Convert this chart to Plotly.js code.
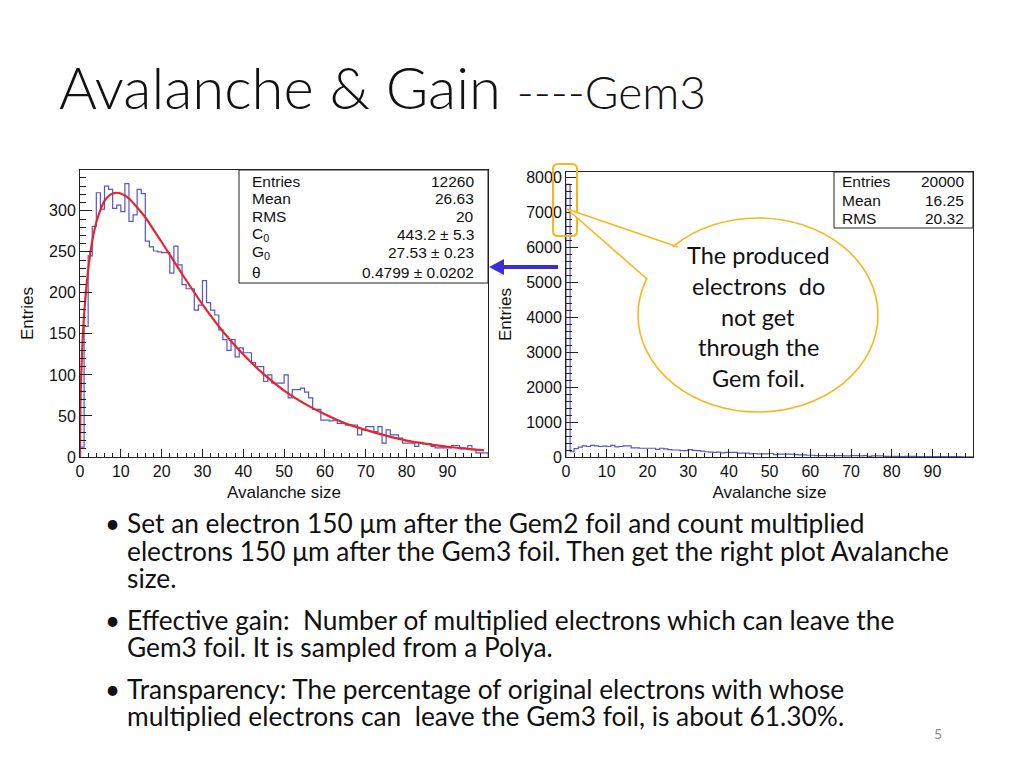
<!DOCTYPE html>
<html>
<head>
<meta charset="utf-8">
<script src="https://cdn.plot.ly/plotly-3.0.1.min.js"></script>
<style>
  html, body { margin: 0; padding: 0; background: #fff; }
  #slide { width: 1024px; height: 768px; }
</style>
</head>
<body>
<div id="slide"></div>
<script>
// left histogram: avalanche size of electrons that leave the Gem3 foil (bins of width 1, 0..100)
var leftCounts = [
    12, 159, 245, 281, 322, 302, 330, 326, 303, 307,
    299, 333, 287, 295, 326, 321, 263, 256, 251, 250,
    249, 249, 224, 257, 234, 210, 205, 205, 179, 185,
    215, 188, 179, 173, 155, 143, 130, 143, 122, 133,
    127, 127, 115, 110, 110, 92, 100, 90, 90, 90,
    100, 72, 82, 82, 84, 79, 72, 58, 58, 45,
    45, 44, 45, 41, 41, 39, 39, 39, 27, 33,
    37, 37, 31, 37, 17, 33, 27, 27, 23, 17,
    17, 17, 13, 18, 16, 16, 13, 11, 11, 11,
    11, 14, 14, 10, 10, 14, 9, 5, 5, 5
];

// Polya fit drawn in red
var fitX = [0, 0.1, 0.25, 0.5, 1, 2, 3, 4, 5, 6, 7, 8, 9, 10, 12, 14, 16, 18, 20, 25,
            30, 35, 40, 45, 50, 55, 60, 65, 70, 75, 80, 85, 90, 95, 99];
var fitY = [0, 60, 92, 127, 173, 228, 263, 286, 301, 312, 318, 321, 322, 321, 315, 304, 292, 277, 262, 223,
            186, 153, 125, 101, 81, 65, 52, 41, 33, 26, 20, 16, 12.5, 10, 8];

// right histogram: all 20000 avalanches, bin 0 holds the electrons that do not get through
var rightCounts = [
    7800, 150, 240, 280, 320, 300, 330, 320, 300, 310,
    300, 330, 290, 300, 320, 320, 260, 260, 250, 250,
    250, 250, 220, 250, 230, 210, 200, 200, 180, 180,
    210, 190, 180, 170, 150, 140, 130, 140, 120, 130,
    130, 130, 110, 110, 110, 90, 100, 90, 90, 90,
    100, 70, 80, 80, 80, 80, 70, 60, 60, 50,
    50, 40, 40, 40, 40, 40, 40, 40, 30, 30,
    40, 40, 30, 40, 20, 30, 30, 30, 20, 20,
    20, 20, 10, 20, 20, 20, 10, 10, 10, 10,
    10, 10, 10, 10, 10, 10, 10, 5, 5, 5
];
var binLow = 0;
var binWidth = 1;

var leftStatNames = ['Entries', 'Mean', 'RMS', 'C<sub>0</sub>', 'G<sub>0</sub>', 'θ'];
var leftStatValues = ['12260', '26.63', '20', '443.2 ± 5.3', '27.53 ± 0.23', '0.4799 ± 0.0202'];
var rightStatNames = ['Entries', 'Mean', 'RMS'];
var rightStatValues = ['20000', '16.25', '20.32'];

var titleMain = 'Avalanche & Gain';
var titleSub = '----Gem3';
var xTitle = 'Avalanche size';
var yTitle = 'Entries';
var calloutLines = ['The produced', 'electrons  do', 'not get', 'through the', 'Gem foil.'];
var bulletLines = [
    ['Set an electron 150 μm after the Gem2 foil and count multiplied',
     'electrons 150 μm after the Gem3 foil. Then get the right plot Avalanche',
     'size.'],
    ['Effective gain:  Number of multiplied electrons which can leave the',
     'Gem3 foil. It is sampled from a Polya.'],
    ['Transparency: The percentage of original electrons with whose',
     'multiplied electrons can  leave the Gem3 foil, is about 61.30%.']
];
var pageNumber = '5';

(function () {
    var W = 1024, H = 768;
    function px(x) { return x / W; }
    function py(y) { return 1 - y / H; }

    var rootFont = 'Liberation Sans, Arial, Helvetica, sans-serif';
    var slideFont = 'Lato, Carlito, Calibri, sans-serif';
    var histBlue = '#5656c8';
    var fitRed = '#e8242c';
    var yellow = '#f5b81c';
    var arrowBlue = '#3a2fd4';

    // step outline like ROOT's HIST option
    function outline(counts) {
        var xs = [binLow], ys = [0];
        counts.forEach(function (c, i) {
            xs.push(binLow + i * binWidth);
            ys.push(c);
        });
        xs.push(binLow + counts.length * binWidth);
        ys.push(counts[counts.length - 1]);
        xs.push(binLow + counts.length * binWidth);
        ys.push(0);
        return { x: xs, y: ys };
    }

    var leftLine = outline(leftCounts);
    var rightLine = outline(rightCounts);

    var data = [
        {
            type: 'scatter', mode: 'lines', x: leftLine.x, y: leftLine.y,
            line: { shape: 'hv', color: histBlue, width: 1.2 },
            xaxis: 'x', yaxis: 'y', hoverinfo: 'skip'
        },
        {
            type: 'scatter', mode: 'lines', x: fitX, y: fitY,
            line: { shape: 'spline', smoothing: 0.8, color: fitRed, width: 2.2 },
            xaxis: 'x', yaxis: 'y', hoverinfo: 'skip'
        },
        {
            type: 'scatter', mode: 'lines', x: rightLine.x, y: rightLine.y,
            line: { shape: 'hv', color: histBlue, width: 1.2 },
            xaxis: 'x2', yaxis: 'y2', hoverinfo: 'skip'
        }
    ];

    function axis(extra) {
        var base = {
            showline: true, mirror: true, linecolor: '#222', linewidth: 1,
            ticks: 'inside', tickcolor: '#222', tickwidth: 1,
            showgrid: false, zeroline: false, fixedrange: true,
            tickfont: { family: rootFont, size: 16, color: '#111' }
        };
        for (var k in extra) base[k] = extra[k];
        return base;
    }

    var layout = {
        width: W, height: H,
        margin: { l: 0, r: 0, t: 0, b: 0 },
        paper_bgcolor: '#fff', plot_bgcolor: '#fff',
        showlegend: false,
        title: {
            text: titleMain + ' <span style="font-size:46px">' + titleSub + '</span>',
            font: { family: slideFont, size: 58, color: '#111', weight: 300 },
            xref: 'paper', yref: 'paper', x: px(59), xanchor: 'left', y: py(89), yanchor: 'middle'
        },
        xaxis: axis({
            domain: [px(80), px(488)], range: [0, 99.95], anchor: 'y', dtick: 10, ticklen: 8.5,
            minor: { dtick: 2, ticks: 'inside', ticklen: 4.3, tickcolor: '#222' },
            title: { text: xTitle, standoff: 6, font: { family: rootFont, size: 17, color: '#111' } }
        }),
        yaxis: axis({
            domain: [py(457), py(170)], range: [0, 349.7], anchor: 'x', dtick: 50, ticklen: 12,
            minor: { dtick: 10, ticks: 'inside', ticklen: 6, tickcolor: '#222' },
            title: { text: yTitle, standoff: 11, font: { family: rootFont, size: 17, color: '#111' } }
        }),
        xaxis2: axis({
            domain: [px(566), px(973)], range: [0, 99.95], anchor: 'y2', dtick: 10, ticklen: 8.5,
            minor: { dtick: 2, ticks: 'inside', ticklen: 4.3, tickcolor: '#222' },
            title: { text: xTitle, standoff: 6, font: { family: rootFont, size: 17, color: '#111' } }
        }),
        yaxis2: axis({
            domain: [py(457), py(172)], range: [0, 8150], anchor: 'x2', dtick: 1000, ticklen: 12,
            minor: { dtick: 200, ticks: 'inside', ticklen: 6, tickcolor: '#222' },
            title: { text: yTitle, standoff: 10, font: { family: rootFont, size: 17, color: '#111' } }
        }),
        shapes: [],
        annotations: []
    };

    // stats boxes
    layout.shapes.push({ type: 'rect', xref: 'paper', yref: 'paper', x0: px(239), x1: px(488), y0: py(283), y1: py(170),
        line: { color: '#222', width: 1 }, fillcolor: '#fff', layer: 'above' });
    layout.shapes.push({ type: 'rect', xref: 'paper', yref: 'paper', x0: px(834), x1: px(973), y0: py(228), y1: py(172),
        line: { color: '#222', width: 1 }, fillcolor: '#fff', layer: 'above' });

    var leftRows = [182, 199, 216, 235, 253, 272];
    leftStatNames.forEach(function (name, i) {
        layout.annotations.push({ xref: 'paper', yref: 'paper', x: px(250), y: py(leftRows[i]), xanchor: 'left', yanchor: 'middle',
            text: name, showarrow: false, font: { family: rootFont, size: 15.5, color: '#111' } });
        layout.annotations.push({ xref: 'paper', yref: 'paper', x: px(476), y: py(leftRows[i]), xanchor: 'right', yanchor: 'middle',
            text: leftStatValues[i], showarrow: false, font: { family: rootFont, size: 15.5, color: '#111' } });
    });
    var rightRows = [182, 200, 218];
    rightStatNames.forEach(function (name, i) {
        layout.annotations.push({ xref: 'paper', yref: 'paper', x: px(840), y: py(rightRows[i]), xanchor: 'left', yanchor: 'middle',
            text: name, showarrow: false, font: { family: rootFont, size: 15.5, color: '#111' } });
        layout.annotations.push({ xref: 'paper', yref: 'paper', x: px(966), y: py(rightRows[i]), xanchor: 'right', yanchor: 'middle',
            text: rightStatValues[i], showarrow: false, font: { family: rootFont, size: 15.5, color: '#111' } });
    });

    // yellow rounded frame round the bin-0 spike
    function roundRect(x0, y0, x1, y1, r) {
        var p = function (x, y) { return px(x) + ',' + py(y); };
        return 'M' + p(x0 + r, y0) + ' L' + p(x1 - r, y0) + ' Q' + p(x1, y0) + ' ' + p(x1, y0 + r) +
            ' L' + p(x1, y1 - r) + ' Q' + p(x1, y1) + ' ' + p(x1 - r, y1) +
            ' L' + p(x0 + r, y1) + ' Q' + p(x0, y1) + ' ' + p(x0, y1 - r) +
            ' L' + p(x0, y0 + r) + ' Q' + p(x0, y0) + ' ' + p(x0 + r, y0) + ' Z';
    }
    layout.shapes.push({ type: 'path', xref: 'paper', yref: 'paper', path: roundRect(553, 164, 577, 236, 5),
        line: { color: yellow, width: 2 }, layer: 'above' });

    // callout bubble with wedge
    var tip = [567, 209], wa = [678, 247], wb = [647, 279];
    layout.shapes.push({ type: 'circle', xref: 'paper', yref: 'paper', x0: px(638), x1: px(878), y0: py(412), y1: py(218),
        line: { color: yellow, width: 1.6 }, fillcolor: '#fff', layer: 'above' });
    layout.shapes.push({ type: 'path', xref: 'paper', yref: 'paper',
        path: 'M' + px(tip[0]) + ',' + py(tip[1]) + ' L' + px(wa[0] + 4) + ',' + py(wa[1] + 3) +
            ' L' + px(wb[0] + 4) + ',' + py(wb[1] + 2) + ' Z',
        line: { width: 0 }, fillcolor: '#fff', layer: 'above' });
    [wa, wb].forEach(function (p) {
        layout.shapes.push({ type: 'line', xref: 'paper', yref: 'paper', x0: px(tip[0]), y0: py(tip[1]), x1: px(p[0]), y1: py(p[1]),
            line: { color: yellow, width: 1.6 }, layer: 'above' });
    });
    var calloutRows = [255, 286, 317, 347, 378];
    calloutLines.forEach(function (t, i) {
        layout.annotations.push({ xref: 'paper', yref: 'paper', x: px(758), y: py(calloutRows[i]), xanchor: 'center', yanchor: 'middle',
            text: t, showarrow: false, font: { family: slideFont, size: 23.5, color: '#111' } });
    });

    // blue arrow pointing at the left plot: shaft and head
    layout.shapes.push({ type: 'line', xref: 'paper', yref: 'paper', x0: px(558), y0: py(267), x1: px(500), y1: py(267),
        line: { color: arrowBlue, width: 4 }, layer: 'above' });
    layout.shapes.push({ type: 'path', xref: 'paper', yref: 'paper',
        path: 'M' + px(489) + ',' + py(267) + ' L' + px(504) + ',' + py(259) + ' L' + px(504) + ',' + py(275) + ' Z',
        line: { width: 0 }, fillcolor: arrowBlue, layer: 'above' });

    // bullets
    var bulletRows = [[523, 551, 578], [620, 647], [689, 716]];
    bulletLines.forEach(function (lines, b) {
        layout.annotations.push({ xref: 'paper', yref: 'paper', x: px(103), y: py(bulletRows[b][0]), xanchor: 'left', yanchor: 'middle',
            text: '•', showarrow: false, font: { family: slideFont, size: 26, color: '#111' } });
        lines.forEach(function (t, i) {
            layout.annotations.push({ xref: 'paper', yref: 'paper', x: px(125), y: py(bulletRows[b][i]), xanchor: 'left', yanchor: 'middle',
                text: t, showarrow: false, font: { family: slideFont, size: 26.3, color: '#111' } });
        });
    });

    layout.annotations.push({ xref: 'paper', yref: 'paper', x: px(938), y: py(733), xanchor: 'center', yanchor: 'middle',
        text: pageNumber, showarrow: false, font: { family: slideFont, size: 14, color: '#8a8a8a' } });

    Plotly.newPlot('slide', data, layout, { displayModeBar: false, staticPlot: true });
})();
</script>
</body>
</html>
